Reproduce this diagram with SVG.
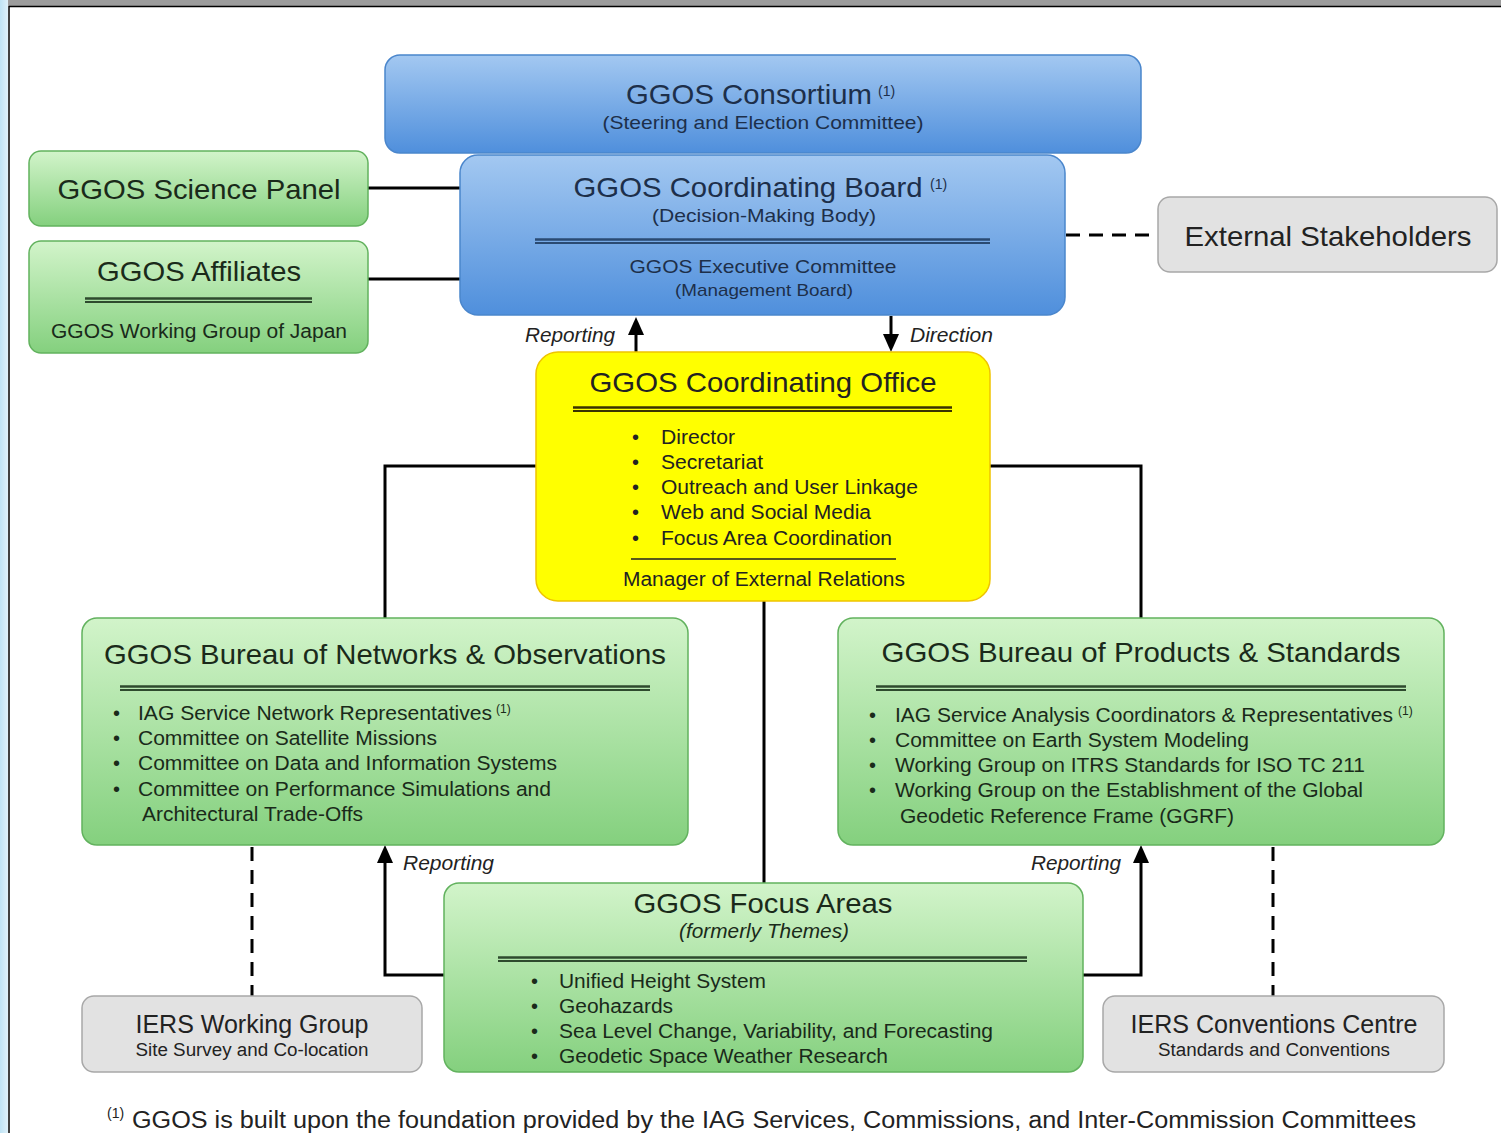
<svg xmlns="http://www.w3.org/2000/svg" width="1501" height="1133" viewBox="0 0 1501 1133">
<defs>
<linearGradient id="gBlue" x1="0" y1="0" x2="0" y2="1"><stop offset="0" stop-color="#a3c8f1"/><stop offset="1" stop-color="#4f8fdc"/></linearGradient>
<linearGradient id="gGreen" x1="0" y1="0" x2="0" y2="1"><stop offset="0" stop-color="#d2f4ca"/><stop offset="1" stop-color="#84d07e"/></linearGradient>
<linearGradient id="gLeft" x1="0" y1="0" x2="1" y2="0"><stop offset="0" stop-color="#bfe3f4"/><stop offset="1" stop-color="#dff1fa"/></linearGradient>
</defs>
<style>
text{font-family:"Liberation Sans",Arial,sans-serif;}
.blue{fill:url(#gBlue);stroke:#4a86cc;stroke-width:1.5;}
.green{fill:url(#gGreen);stroke:#62b25e;stroke-width:1.5;}
.gray{fill:#e2e2e2;stroke:#a8a8a8;stroke-width:1.5;}
.yellow{fill:#ffff00;stroke:#efc400;stroke-width:1.5;}
.tb{fill:#1d2f4a;}
.tg{fill:#1a2a1a;}
.tk{fill:#222;}
.t28{font-size:28px;}
.t20{font-size:20px;}
.t19{font-size:19px;}
.sup{font-size:14px;}
.it{font-style:italic;}
.c{text-anchor:middle;}
.conn{stroke:#000;stroke-width:3;fill:none;}
.dash{stroke:#000;stroke-width:3;fill:none;stroke-dasharray:14 9;}
.head{fill:#000;}
</style>
<rect x="0" y="0" width="1501" height="1133" fill="#fff"/>
<rect x="0" y="0" width="1501" height="6" fill="#9c9c9c"/>
<rect x="0" y="0" width="8" height="1133" fill="url(#gLeft)"/>
<line x1="9" y1="6.5" x2="1501" y2="6.5" stroke="#000" stroke-width="1.5"/>
<line x1="9" y1="6" x2="9" y2="1133" stroke="#000" stroke-width="1.5"/>

<g id="connectors">
<line class="conn" x1="368" y1="188" x2="460" y2="188"/>
<line class="conn" x1="368" y1="279" x2="460" y2="279"/>
<line class="dash" x1="1066" y1="235" x2="1158" y2="235" stroke-dasharray="9 4"/>
<line class="conn" x1="636" y1="352" x2="636" y2="330"/>
<polygon class="head" points="636,317 628,335 644,335"/>
<line class="conn" x1="891" y1="316" x2="891" y2="338"/>
<polygon class="head" points="891,352 883,334 899,334"/>
<polyline class="conn" points="536,466 385,466 385,618"/>
<polyline class="conn" points="990,466 1141,466 1141,618"/>
<line class="conn" x1="764" y1="601" x2="764" y2="883"/>
<polyline class="conn" points="444,975 385,975 385,858"/>
<polygon class="head" points="385,845 377,863 393,863"/>
<polyline class="conn" points="1083,975 1141,975 1141,858"/>
<polygon class="head" points="1141,845 1133,863 1149,863"/>
<line class="dash" x1="252" y1="847" x2="252" y2="996"/>
<line class="dash" x1="1273" y1="847" x2="1273" y2="996"/>
<text class="tk t20 it" x="525" y="342" textLength="90" lengthAdjust="spacingAndGlyphs">Reporting</text>
<text class="tk t20 it" x="910" y="342" textLength="83" lengthAdjust="spacingAndGlyphs">Direction</text>
<text class="tk t20 it" x="403" y="870" textLength="91" lengthAdjust="spacingAndGlyphs">Reporting</text>
<text class="tk t20 it" x="1031" y="870" textLength="90" lengthAdjust="spacingAndGlyphs">Reporting</text>
</g>

<g id="consortium">
<rect class="blue" x="385" y="55" width="756" height="98" rx="15"/>
<text class="tb t28 c" x="749" y="104" textLength="246" lengthAdjust="spacingAndGlyphs">GGOS Consortium</text>
<text class="tb sup" x="878" y="96">(1)</text>
<text class="tb t19 c" x="763" y="129" textLength="321" lengthAdjust="spacingAndGlyphs">(Steering and Election Committee)</text>
</g>

<g id="board">
<rect class="blue" x="460" y="155" width="605" height="160" rx="18"/>
<text class="tb t28 c" x="748" y="197" textLength="349" lengthAdjust="spacingAndGlyphs">GGOS Coordinating Board</text>
<text class="tb sup" x="930" y="189">(1)</text>
<text class="tb t19 c" x="764" y="222" textLength="224" lengthAdjust="spacingAndGlyphs">(Decision-Making Body)</text>
<line x1="535" y1="239.5" x2="990" y2="239.5" stroke="#2a4a72" stroke-width="2.5"/>
<line x1="535" y1="243" x2="990" y2="243" stroke="#2a4a72" stroke-width="2"/>
<text class="tb t19 c" x="763" y="273" textLength="267" lengthAdjust="spacingAndGlyphs">GGOS Executive Committee</text>
<text class="tb c" style="font-size:17px" x="764" y="296" textLength="178" lengthAdjust="spacingAndGlyphs">(Management Board)</text>
</g>

<g id="science-panel">
<rect class="green" x="29" y="151" width="339" height="75" rx="12"/>
<text class="tg t28 c" x="199" y="199" textLength="283" lengthAdjust="spacingAndGlyphs">GGOS Science Panel</text>
</g>

<g id="affiliates">
<rect class="green" x="29" y="241" width="339" height="112" rx="12"/>
<text class="tg t28 c" x="199" y="281" textLength="204" lengthAdjust="spacingAndGlyphs">GGOS Affiliates</text>
<line x1="85" y1="298.5" x2="312" y2="298.5" stroke="#2e4a2e" stroke-width="2.5"/>
<line x1="85" y1="302" x2="312" y2="302" stroke="#2e4a2e" stroke-width="2"/>
<text class="tg t20 c" x="199" y="338" textLength="296" lengthAdjust="spacingAndGlyphs">GGOS Working Group of Japan</text>
</g>

<g id="stakeholders">
<rect class="gray" x="1158" y="197" width="339" height="75" rx="12"/>
<text class="tk t28 c" x="1328" y="246" textLength="287" lengthAdjust="spacingAndGlyphs">External Stakeholders</text>
</g>

<g id="office">
<rect class="yellow" x="536" y="352" width="454" height="249" rx="22"/>
<text class="tk t28 c" x="763" y="392" textLength="347" lengthAdjust="spacingAndGlyphs">GGOS Coordinating Office</text>
<line x1="573" y1="407.5" x2="952" y2="407.5" stroke="#3a3200" stroke-width="2.5"/>
<line x1="573" y1="411" x2="952" y2="411" stroke="#3a3200" stroke-width="2"/>
<g class="tk t20">
<text x="632" y="444">•</text><text x="661" y="444" textLength="74" lengthAdjust="spacingAndGlyphs">Director</text>
<text x="632" y="469">•</text><text x="661" y="469" textLength="102" lengthAdjust="spacingAndGlyphs">Secretariat</text>
<text x="632" y="494">•</text><text x="661" y="494" textLength="257" lengthAdjust="spacingAndGlyphs">Outreach and User Linkage</text>
<text x="632" y="519">•</text><text x="661" y="519" textLength="210" lengthAdjust="spacingAndGlyphs">Web and Social Media</text>
<text x="632" y="545">•</text><text x="661" y="545" textLength="231" lengthAdjust="spacingAndGlyphs">Focus Area Coordination</text>
</g>
<line x1="631" y1="559" x2="896" y2="559" stroke="#222" stroke-width="1.5"/>
<text class="tk t20 c" x="764" y="586" textLength="282" lengthAdjust="spacingAndGlyphs">Manager of External Relations</text>
</g>

<g id="bureau-networks">
<rect class="green" x="82" y="618" width="606" height="227" rx="15"/>
<text class="tg t28 c" x="385" y="664" textLength="562" lengthAdjust="spacingAndGlyphs">GGOS Bureau of Networks &amp; Observations</text>
<line x1="120" y1="686.5" x2="650" y2="686.5" stroke="#2e4a2e" stroke-width="2.5"/>
<line x1="120" y1="690" x2="650" y2="690" stroke="#2e4a2e" stroke-width="2"/>
<g class="tg t20">
<text x="113" y="720">•</text><text x="138" y="720" textLength="354" lengthAdjust="spacingAndGlyphs">IAG Service Network Representatives</text>
<text class="sup" x="496" y="713" style="font-size:12px">(1)</text>
<text x="113" y="745">•</text><text x="138" y="745" textLength="299" lengthAdjust="spacingAndGlyphs">Committee on Satellite Missions</text>
<text x="113" y="770">•</text><text x="138" y="770" textLength="419" lengthAdjust="spacingAndGlyphs">Committee on Data and Information Systems</text>
<text x="113" y="796">•</text><text x="138" y="796" textLength="413" lengthAdjust="spacingAndGlyphs">Committee on Performance Simulations and</text>
<text x="142" y="821" textLength="221" lengthAdjust="spacingAndGlyphs">Architectural Trade-Offs</text>
</g>
</g>

<g id="bureau-products">
<rect class="green" x="838" y="618" width="606" height="227" rx="15"/>
<text class="tg t28 c" x="1141" y="662" textLength="519" lengthAdjust="spacingAndGlyphs">GGOS Bureau of Products &amp; Standards</text>
<line x1="876" y1="686.5" x2="1406" y2="686.5" stroke="#2e4a2e" stroke-width="2.5"/>
<line x1="876" y1="690" x2="1406" y2="690" stroke="#2e4a2e" stroke-width="2"/>
<g class="tg t20">
<text x="869" y="722">•</text><text x="895" y="722" textLength="498" lengthAdjust="spacingAndGlyphs">IAG Service Analysis Coordinators &amp; Representatives</text>
<text class="sup" x="1398" y="715" style="font-size:12px">(1)</text>
<text x="869" y="747">•</text><text x="895" y="747" textLength="354" lengthAdjust="spacingAndGlyphs">Committee on Earth System Modeling</text>
<text x="869" y="772">•</text><text x="895" y="772" textLength="470" lengthAdjust="spacingAndGlyphs">Working Group on ITRS Standards for ISO TC 211</text>
<text x="869" y="797">•</text><text x="895" y="797" textLength="468" lengthAdjust="spacingAndGlyphs">Working Group on the Establishment of the Global</text>
<text x="900" y="823" textLength="334" lengthAdjust="spacingAndGlyphs">Geodetic Reference Frame (GGRF)</text>
</g>
</g>

<g id="focus-areas">
<rect class="green" x="444" y="883" width="639" height="189" rx="15"/>
<text class="tg t28 c" x="763" y="913" textLength="259" lengthAdjust="spacingAndGlyphs">GGOS Focus Areas</text>
<text class="tg t20 c it" x="764" y="938" textLength="170" lengthAdjust="spacingAndGlyphs">(formerly Themes)</text>
<line x1="498" y1="957.5" x2="1027" y2="957.5" stroke="#2e4a2e" stroke-width="2.5"/>
<line x1="498" y1="961" x2="1027" y2="961" stroke="#2e4a2e" stroke-width="2"/>
<g class="tg t20">
<text x="531" y="988">•</text><text x="559" y="988" textLength="207" lengthAdjust="spacingAndGlyphs">Unified Height System</text>
<text x="531" y="1013">•</text><text x="559" y="1013" textLength="114" lengthAdjust="spacingAndGlyphs">Geohazards</text>
<text x="531" y="1038">•</text><text x="559" y="1038" textLength="434" lengthAdjust="spacingAndGlyphs">Sea Level Change, Variability, and Forecasting</text>
<text x="531" y="1063">•</text><text x="559" y="1063" textLength="329" lengthAdjust="spacingAndGlyphs">Geodetic Space Weather Research</text>
</g>
</g>

<g id="iers-wg">
<rect class="gray" x="82" y="996" width="340" height="76" rx="12"/>
<text class="tk c" style="font-size:25px" x="252" y="1033" textLength="233" lengthAdjust="spacingAndGlyphs">IERS Working Group</text>
<text class="tk c" style="font-size:18px" x="252" y="1056" textLength="233" lengthAdjust="spacingAndGlyphs">Site Survey and Co-location</text>
</g>

<g id="iers-cc">
<rect class="gray" x="1103" y="996" width="341" height="76" rx="12"/>
<text class="tk c" style="font-size:25px" x="1274" y="1033" textLength="287" lengthAdjust="spacingAndGlyphs">IERS Conventions Centre</text>
<text class="tk c" style="font-size:18px" x="1274" y="1056" textLength="232" lengthAdjust="spacingAndGlyphs">Standards and Conventions</text>
</g>

<g id="footnote">
<text class="tk" style="font-size:14px" x="107" y="1118">(1)</text>
<text class="tk" style="font-size:23px" x="132" y="1128" textLength="1284" lengthAdjust="spacingAndGlyphs">GGOS is built upon the foundation provided by the IAG Services, Commissions, and Inter-Commission Committees</text>
</g>
</svg>
